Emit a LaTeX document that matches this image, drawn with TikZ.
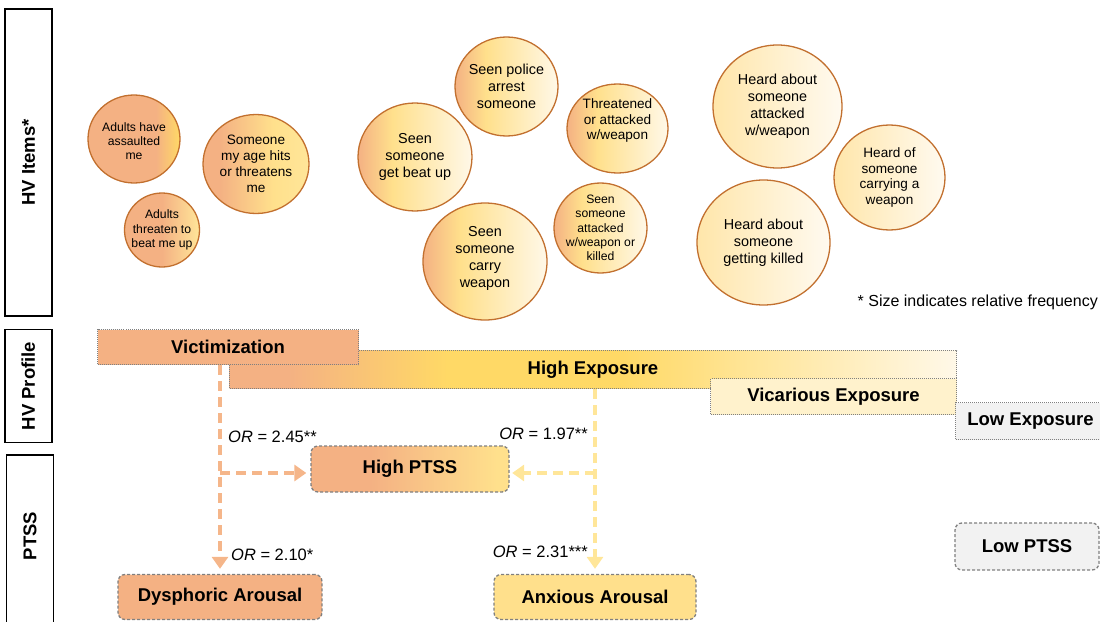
\documentclass[tikz,border=0pt]{standalone}
\usepackage{fontspec}
\setmainfont{Liberation Sans}
\usetikzlibrary{shapes.geometric}
\usetikzlibrary{arrows.meta}
\definecolor{HVOrange}{HTML}{F4B183}
\definecolor{HVOrangeLight}{HTML}{F5B68A}
\definecolor{HVYellow}{HTML}{FFD966}
\definecolor{HVGold}{HTML}{FFE08C}
\definecolor{HVGoldLight}{HTML}{FFE699}
\definecolor{HVPale}{HTML}{FFF2CC}
\definecolor{HVCream}{HTML}{FFF8E8}
\definecolor{HVHeardL}{HTML}{FFE6AA}
\definecolor{HVHeardR}{HTML}{FFFAF0}
\definecolor{HVGrey}{HTML}{F2F2F2}
\definecolor{HVEdge}{HTML}{C2702F}
\definecolor{HVDash}{HTML}{808080}
\pgfdeclarehorizontalshading{assaultshade}{100bp}{color(0bp)=(HVOrange); color(62bp)=(HVOrange); color(75bp)=(HVYellow); color(100bp)=(HVYellow)}
\pgfdeclarehorizontalshading{threatshade}{100bp}{color(0bp)=(HVOrange); color(50bp)=(HVOrange); color(75bp)=(HVGoldLight); color(100bp)=(HVGoldLight)}
\pgfdeclarehorizontalshading{peershade}{100bp}{color(0bp)=(HVOrange); color(33bp)=(HVOrange); color(58bp)=(HVGold); color(75bp)=(HVGoldLight); color(100bp)=(HVGoldLight)}
\pgfdeclarehorizontalshading{seenshade}{100bp}{color(0bp)=(HVOrange); color(25bp)=(HVOrange); color(40bp)=(HVGold); color(75bp)=(HVCream); color(100bp)=(HVCream)}
\pgfdeclarehorizontalshading{heardshade}{100bp}{color(0bp)=(HVHeardL); color(25bp)=(HVHeardL); color(75bp)=(HVHeardR); color(100bp)=(HVHeardR)}
\pgfdeclarehorizontalshading{hiexpshade}{100bp}{color(0bp)=(HVOrange); color(29bp)=(HVOrange); color(40bp)=(HVYellow); color(52bp)=(HVYellow); color(75bp)=(HVCream); color(100bp)=(HVCream)}
\pgfdeclarehorizontalshading{hptssshade}{100bp}{color(0bp)=(HVOrange); color(40bp)=(HVOrange); color(72bp)=(HVGold); color(100bp)=(HVGold)}
\newcommand{\headfont}{\fontsize{18.5}{22}\selectfont\bfseries}
\tikzset{
  item/.style={ellipse, draw=HVEdge, line width=1.3pt, inner sep=0pt, shade},
  itemS/.style={align=center, inner sep=0pt, font=\fontsize{12.2}{14.3}\selectfont},
  itemM/.style={align=center, inner sep=0pt, font=\fontsize{13.6}{15.8}\selectfont},
  itemL/.style={align=center, inner sep=0pt, font=\fontsize{14.4}{17}\selectfont},
  profile/.style={draw=HVDash, densely dotted, line width=1pt, inner sep=0pt,
    anchor=north west, font=\headfont},
  outcome/.style={draw=HVDash, dash pattern=on 3pt off 2pt, line width=1.3pt,
    rounded corners=7pt, inner sep=0pt, font=\headfont},
  panel/.style={draw=black, line width=1.5pt, fill=white, rotate=90,
    inner sep=0pt, font=\headfont},
  ratio/.style={inner sep=0pt, font=\fontsize{16.5}{18}\selectfont},
  orflow/.style={HVOrangeLight, line width=4.2pt, dash pattern=on 10pt off 6pt,
    -{Triangle[width=16pt,length=12pt]}},
  yeflow/.style={HVGoldLight, line width=4.2pt, dash pattern=on 10pt off 6pt,
    -{Triangle[width=16pt,length=12pt]}}
}

\begin{document}
\begin{tikzpicture}[x=1pt,y=-1pt]
    \useasboundingbox (0,0) rectangle (1100,621);
    \clip (0,0) rectangle (1100,621);

    % Panels
    \node[panel, minimum width=307pt, minimum height=47pt] (items) at (28.5,162.5) {HV Items*};
    \node[panel, minimum width=113pt, minimum height=47pt] (prof) at (28.3,386) {HV Profile};
    \node[panel, minimum width=200pt, minimum height=47pt] (ptss) at (30,555) {};
    \node[rotate=90, inner sep=0pt, font=\headfont] (ptss-t) at (30,536) {PTSS};

    % HV items
    \node[item, shading=assaultshade, minimum width=92pt, minimum height=88pt] (assault) at (134,139) {};
    \node[itemS] (assault-t) at ([yshift=-2pt]assault) {Adults have\\assaulted\\me};
    \node[item, shading=threatshade, minimum width=75pt, minimum height=74pt] (threaten) at (162,230) {};
    \node[itemS] (threaten-t) at (threaten) {Adults\\threaten to\\beat me up};
    \node[item, shading=peershade, minimum width=106pt, minimum height=99pt] (peerhit) at (256,164) {};
    \node[itemM] (peerhit-t) at (peerhit) {Someone\\my age hits\\or threatens\\me};

    \node[item, shading=seenshade, minimum width=103pt, minimum height=99pt] (police) at (506.5,86.5) {};
    \node[itemL] (police-t) at (police) {Seen police\\arrest\\someone};
    \node[item, shading=seenshade, minimum width=101pt, minimum height=89pt] (weapthr) at (617.5,128.5) {};
    \node[itemM] (weapthr-t) at ([yshift=8pt]weapthr) {Threatened\\or attacked\\w/weapon};
    \node[item, shading=seenshade, minimum width=114pt, minimum height=108pt] (beatup) at (415,157) {};
    \node[itemL] (beatup-t) at (beatup) {Seen\\someone\\get beat up};
    \node[item, shading=seenshade, minimum width=124pt, minimum height=117pt] (carry) at (485,261.5) {};
    \node[itemL] (carry-t) at ([yshift=3pt]carry) {Seen\\someone\\carry\\weapon};
    \node[item, shading=seenshade, minimum width=93pt, minimum height=90pt] (attacked) at (600.5,228) {};
    \node[itemS] (attacked-t) at (attacked) {Seen\\someone\\attacked\\w/weapon or\\killed};

    \node[item, shading=heardshade, minimum width=129pt, minimum height=123pt] (hattack) at (777.5,106.5) {};
    \node[itemL] (hattack-t) at (hattack) {Heard about\\someone\\attacked\\w/weapon};
    \node[item, shading=heardshade, minimum width=111pt, minimum height=105pt] (hcarry) at (889.5,177.5) {};
    \node[itemM] (hcarry-t) at (hcarry) {Heard of\\someone\\carrying a\\weapon};
    \node[item, shading=heardshade, minimum width=133pt, minimum height=125pt] (hkilled) at (763.5,242.5) {};
    \node[itemL] (hkilled-t) at (hkilled) {Heard about\\someone\\getting killed};

    \node[inner sep=0pt, anchor=east, font=\fontsize{16}{18}\selectfont] (note) at (1098,302) {* Size indicates relative frequency};

    % HV profiles
    \node[profile, shade, shading=hiexpshade, minimum width=727pt, minimum height=38pt] (hiexp) at (229,350) {High Exposure};
    \node[profile, fill=HVOrange, minimum width=261pt, minimum height=35pt] (vict) at (97,329) {Victimization};
    \node[profile, fill=HVPale, minimum width=246pt, minimum height=36pt] (vicar) at (710,378) {Vicarious Exposure};
    \node[profile, fill=HVGrey, minimum width=150pt, minimum height=37pt] (lowexp) at (955,402) {Low Exposure};

    % PTSS classes
    \node[outcome, shade, shading=hptssshade, minimum width=198pt, minimum height=46pt] (hptss) at (410,469) {High PTSS};
    \node[outcome, fill=HVOrange, minimum width=204pt, minimum height=45pt] (dysph) at (220,597) {Dysphoric Arousal};
    \node[outcome, fill=HVGold, minimum width=202pt, minimum height=45pt] (anxar) at (595,597) {Anxious Arousal};
    \node[outcome, fill=HVGrey, minimum width=144pt, minimum height=47pt] (lptss) at (1027,546.5) {Low PTSS};

    % Odds ratios
    \path (dysph.north |- hptss.west) ++(0,4) coordinate (orknee);
    \path (anxar.north |- hptss.east) ++(0,4) coordinate (yeknee);
    \draw[orflow, shorten >=5pt] (dysph.north |- vict.south) -- (dysph.north);
    \draw[orflow, shorten >=4pt] (orknee) -- (orknee -| hptss.west);
    \draw[yeflow, shorten >=5pt] (anxar.north |- hiexp.south) -- (anxar.north);
    \draw[yeflow, shorten >=2.5pt] (yeknee) -- (yeknee -| hptss.east);

    \node[ratio, anchor=west] (or-vh) at (228,437) {\textit{OR} = 2.45**};
    \node[ratio, anchor=west] (or-vd) at (231,555) {\textit{OR} = 2.10*};
    \node[ratio, anchor=east] (or-eh) at (588,434) {\textit{OR} = 1.97**};
    \node[ratio, anchor=east] (or-ea) at (588,552) {\textit{OR} = 2.31***};

\end{tikzpicture}
\end{document}
